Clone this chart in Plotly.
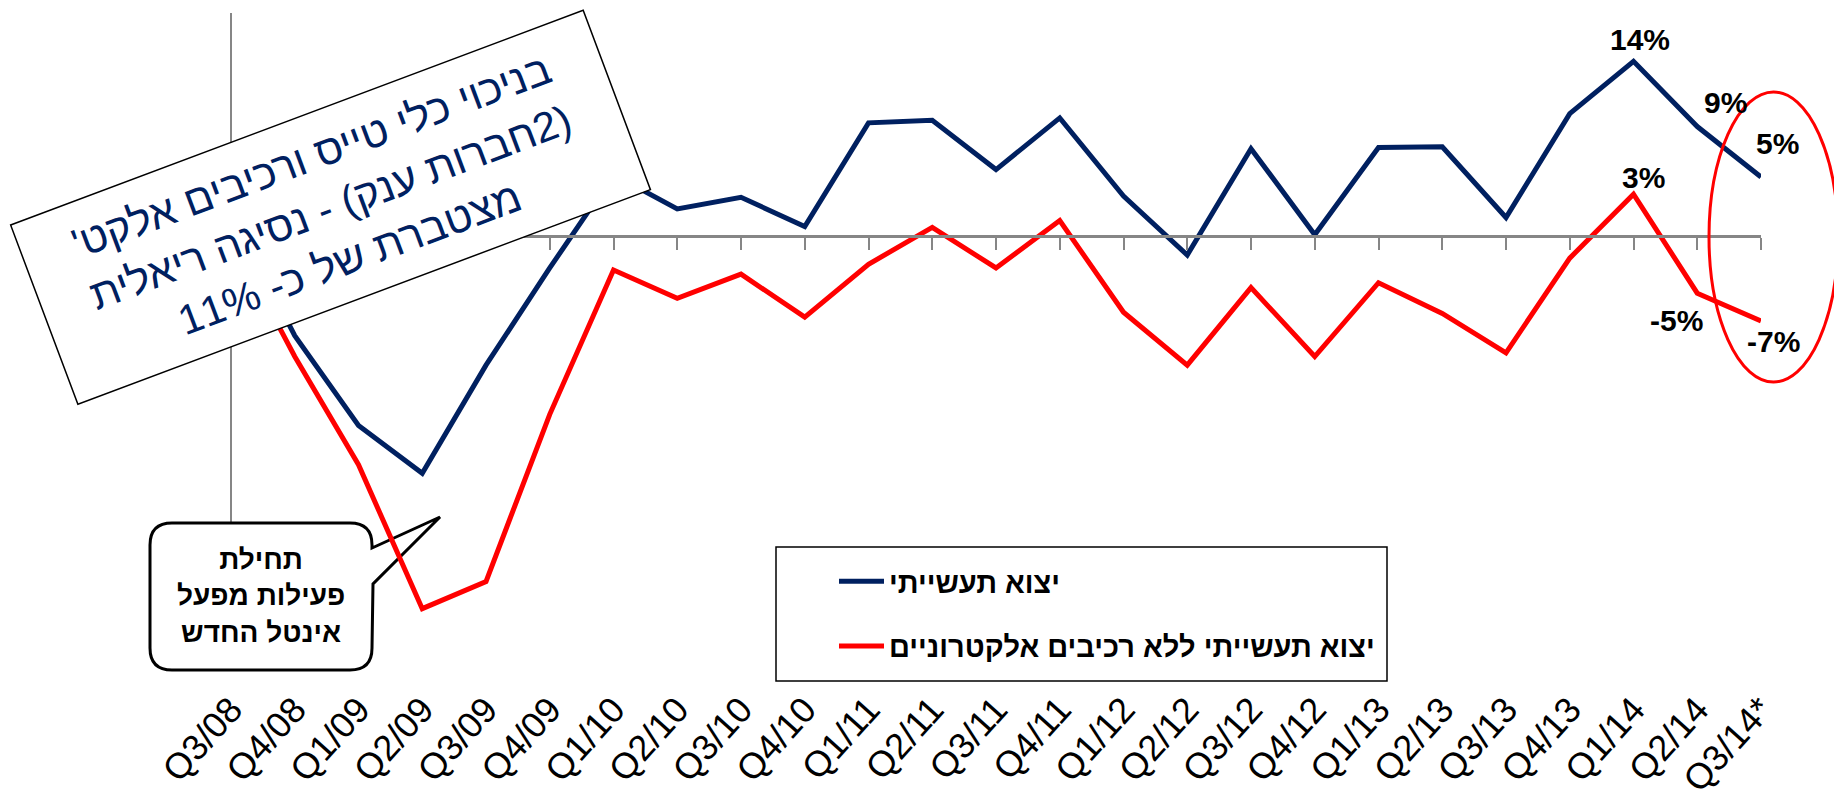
import plotly.graph_objects as go

# ---------------- data ----------------
quarters = ["Q3/08", "Q4/08", "Q1/09", "Q2/09", "Q3/09", "Q4/09", "Q1/10", "Q2/10", "Q3/10",
            "Q4/10", "Q1/11", "Q2/11", "Q3/11", "Q4/11", "Q1/12", "Q2/12", "Q3/12", "Q4/12",
            "Q1/13", "Q2/13", "Q3/13", "Q4/13", "Q1/14", "Q2/14", "Q3/14*"]

industrial_exports = [2.0, -8.1, -15.4, -19.3, -10.5, -2.6, 5.0, 2.2, 3.15, 0.76, 9.2, 9.4, 5.4,
                      9.6, 3.25, -1.55, 7.1, 0.1, 7.2, 7.25, 1.5, 9.95, 14.2, 8.9, 4.8]

exports_ex_electronics = [0.0, -9.8, -18.6, -30.3, -28.1, -14.5, -2.76, -5.07, -3.1, -6.6, -2.3,
                          0.7, -2.6, 1.25, -6.2, -10.5, -4.2, -9.8, -3.8, -6.3, -9.5, -1.8, 3.4,
                          -4.65, -6.9]

series_names = ["יצוא תעשייתי", "יצוא תעשייתי ללא רכיבים אלקטרוניים"]
series_colors = ["#002060", "#FF0000"]

box_lines = ["בניכוי כלי טייס ורכיבים אלקט'",
             "(2חברות ענק) - נסיגה ריאלית",
             "מצטברת של כ- 11%"]
callout_lines = ["תחילת", "פעילות מפעל", "אינטל החדש"]

# labelled points: (series index, point index, xshift, yshift)
labelled = [(0, 22, 6, 22), (0, 23, 28, 24), (0, 24, 16, 33),
            (1, 22, 10, 17), (1, 23, -21, -27), (1, 24, 12, -21)]

# ---------------- layout geometry ----------------
OFF = 8                      # default page margin of the html body
W, H = 1842 - OFF, 802 - OFF
L, R, T = 231 - OFF, 81, 13 - OFF
PLOT_BOTTOM = 680 - OFF
B = H - PLOT_BOTTOM
Y_RANGE = [-36.1, 18.13]
x_idx = list(range(len(quarters)))


def px_x(p):
    return (p - OFF - L) / (W - L - R)


def px_y(p):
    return (H - B - (p - OFF)) / (H - T - B)


FONT = "Arial, 'Liberation Sans', 'DejaVu Sans', sans-serif"
RLE, PDF = "\u202B", "\u202C"

series = [industrial_exports, exports_ex_electronics]

fig = go.Figure()
for i, (name, vals, col) in enumerate(zip(series_names, series, series_colors)):
    fig.add_trace(go.Scatter(
        x=x_idx, y=vals, mode="lines", name=name, legendgroup=f"g{i}",
        line=dict(color=col, width=5), hoverinfo="skip"))

# invisible helper trace so the zero-line axis is rendered
fig.add_trace(go.Scatter(x=x_idx, y=industrial_exports, xaxis="x2", mode="lines",
                         line=dict(width=0), opacity=0, showlegend=False, hoverinfo="skip"))

pos0 = (0 - Y_RANGE[0]) / (Y_RANGE[1] - Y_RANGE[0])

annotations = []
for si, pi, xs, ys in labelled:
    v = series[si][pi]
    annotations.append(dict(
        x=pi, y=v, xref="x", yref="y", text=f"{round(v):.0f}%", showarrow=False,
        xshift=xs, yshift=ys, font=dict(family=FONT, size=30, color="black", weight="bold")))

# rotated text box
pad = 4
annotations.append(dict(
    x=px_x(330), y=px_y(207.3), xref="paper", yref="paper", xanchor="center", yanchor="middle",
    text="<br>".join(RLE + s + PDF for s in box_lines), showarrow=False, textangle=-20.56,
    width=613 - 2 * pad - 3, height=193 - 2 * pad - 3, borderpad=pad, bordercolor="black",
    borderwidth=1.5, bgcolor="white", align="center", valign="middle",
    font=dict(family=FONT, size=42, color="#002060")))

# callout text
annotations.append(dict(
    x=px_x(261), y=px_y(596), xref="paper", yref="paper", xanchor="center", yanchor="middle",
    text="<br>".join(RLE + s + PDF for s in callout_lines), showarrow=False, align="center",
    font=dict(family=FONT, size=28, color="black", weight="bold")))


def P(x, y):
    return f"{px_x(x):.5f},{px_y(y):.5f}"


bubble = (f"M {P(172,523)} L {P(350,523)} Q {P(372,523)} {P(372,545)} L {P(372,548)} "
          f"L {P(440,517)} L {P(373,584)} L {P(372,648)} Q {P(372,670)} {P(350,670)} "
          f"L {P(172,670)} Q {P(150,670)} {P(150,648)} L {P(150,545)} Q {P(150,523)} {P(172,523)} Z")

shapes = [
    # vertical axis line
    dict(type="line", xref="paper", yref="paper", x0=0, x1=0, y0=px_y(523), y1=1,
         line=dict(color="#868686", width=2), layer="below"),
    # callout bubble
    dict(type="path", xref="paper", yref="paper", path=bubble, fillcolor="white",
         line=dict(color="black", width=3), layer="below"),
    # legend frame
    dict(type="rect", xref="paper", yref="paper", x0=px_x(776), x1=px_x(1387),
         y0=px_y(681), y1=px_y(547), line=dict(color="black", width=1.5),
         fillcolor="white", layer="below"),
    # red ellipse
    dict(type="circle", xref="paper", yref="paper", x0=px_x(1709), x1=px_x(1838),
         y0=px_y(382), y1=px_y(92), line=dict(color="#FF0000", width=3)),
]

fig.update_layout(
    width=W, height=H, margin=dict(l=L, r=R, t=T, b=B),
    paper_bgcolor="white", plot_bgcolor="white",
    font=dict(family=FONT, color="black"),
    xaxis=dict(range=[0, 24], tickmode="array", tickvals=x_idx, ticktext=quarters,
               tickangle=-48, tickfont=dict(family=FONT, size=36, color="black"),
               showline=False, showgrid=False, zeroline=False, ticks="", automargin=False),
    xaxis2=dict(range=[0, 24], overlaying="x", anchor="free", position=pos0,
                tickmode="array", tickvals=x_idx, showticklabels=False, showline=True,
                linecolor="#868686", linewidth=2.5, ticks="outside", ticklen=12,
                tickwidth=2, tickcolor="#868686", showgrid=False, zeroline=False,
                automargin=False),
    yaxis=dict(range=Y_RANGE, visible=False, showgrid=False, zeroline=False, automargin=False),
    showlegend=True,
    legend=dict(x=px_x(834), y=px_y(556), xanchor="left", yanchor="top",
                bgcolor="rgba(0,0,0,0)", borderwidth=0, tracegroupgap=24,
                itemwidth=45, font=dict(family=FONT, size=29, color="black", weight="bold")),
    annotations=annotations, shapes=shapes,
)

fig.write_html("out.html")
